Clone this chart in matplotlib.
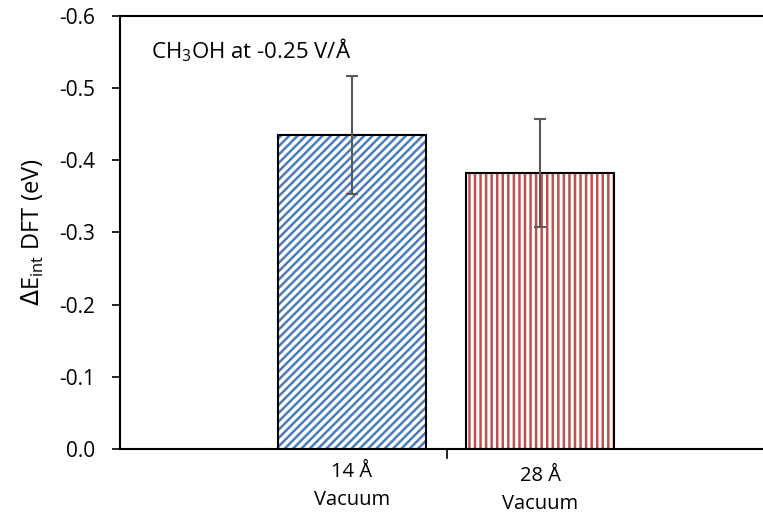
import matplotlib.pyplot as plt

plt.rcParams['font.family'] = ['Open Sans', 'DejaVu Sans']
plt.rcParams['hatch.linewidth'] = 1.8

# Interaction energies for the two vacuum sizes
categories = ['14 Å\nVacuum', '28 Å\nVacuum']
energies = [-0.435, -0.382]
errors = [0.082, 0.075]
colors = ['#4a7ebb', '#c0504d']
hatches = ['////', '|||']

fig = plt.figure(figsize=(7.63, 5.16), dpi=100)
ax = fig.add_axes([0.157, 0.13, 0.842, 0.839])

x = [0, 1]
for i in range(len(categories)):
    ax.bar(x[i], energies[i], width=0.79, color='white', edgecolor=colors[i],
           hatch=hatches[i], linewidth=0, zorder=2)
    ax.bar(x[i], energies[i], width=0.79, fill=False, edgecolor='black',
           linewidth=1.5, zorder=3)
    ax.errorbar(x[i], energies[i], yerr=errors[i], color='#595959',
                capsize=4, elinewidth=1.5, capthick=1.5, zorder=4)

ax.set_ylim(0, -0.6)
ax.set_xlim(-1.234, 2.181)
ax.set_yticks([0, -0.1, -0.2, -0.3, -0.4, -0.5, -0.6])
ax.set_yticklabels(['0.0', '-0.1', '-0.2', '-0.3', '-0.4', '-0.5', '-0.6'])
ax.set_xticks([])
ax.tick_params(axis='y', direction='out', length=6, width=1.2, labelsize=15, pad=12)
# single tick between the two categories
ax.plot([0.505, 0.505], [0, 0.012], color='black', lw=1.2, clip_on=False)

# category labels, the second one sits a little lower
offsets = [-0.03, -0.039]
for i in range(len(categories)):
    ax.text(x[i], offsets[i], categories[i], transform=ax.get_xaxis_transform(),
            ha='center', va='top', fontsize=14.5, linespacing=1.55)

for side in ['left', 'top', 'bottom']:
    ax.spines[side].set_linewidth(1.5)
ax.spines['right'].set_visible(False)

ax.set_ylabel(r'$\Delta$E$_{\mathregular{int}}$ DFT (eV)', fontsize=17)
ax.yaxis.set_label_coords(-0.115, 0.5)
ax.text(-1.07, -0.552, r'CH$_{\mathregular{3}}$OH at -0.25 V/Å', fontsize=16,
        va='center', ha='left')

fig.savefig('out.png', dpi=100)
